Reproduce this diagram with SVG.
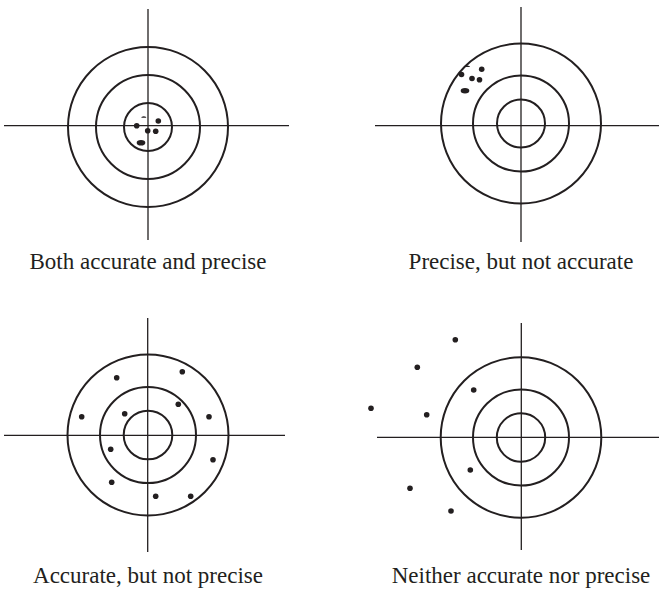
<svg xmlns="http://www.w3.org/2000/svg" width="659" height="590" viewBox="0 0 659 590">
<style>
.ring{fill:none;stroke:#231f20;stroke-width:2}
.axis{stroke:#231f20;stroke-width:1.3;fill:none}
.dot{fill:#231f20}
.label{font-family:"Liberation Serif","Times New Roman",serif;font-size:23px;fill:#231f20;text-anchor:middle}
</style>
<rect width="659" height="590" fill="#ffffff"/>
<g id="target-accurate-precise">
<line class="axis" x1="148" y1="9" x2="148" y2="240"/>
<line class="axis" x1="4" y1="125.7" x2="289" y2="125.7"/>
<circle class="ring" cx="148" cy="127" r="80"/>
<circle class="ring" cx="148" cy="127" r="52"/>
<circle class="ring" cx="148" cy="127" r="24"/>
<circle class="dot" cx="158.3" cy="121" r="2.8"/>
<circle class="dot" cx="136.7" cy="125.7" r="2.8"/>
<circle class="dot" cx="147.7" cy="130.7" r="2.8"/>
<circle class="dot" cx="155.7" cy="131.3" r="2.8"/>
<ellipse class="dot" cx="141" cy="142.7" rx="4.3" ry="2.8"/>
<path class="dot" d="M141.2,117.8 A2.6,1.6 0 0 1 146.4,117.8 Z"/>
<text class="label" x="148" y="269">Both accurate and precise</text>
</g>
<g id="target-precise-not-accurate">
<line class="axis" x1="521" y1="7" x2="521" y2="242"/>
<line class="axis" x1="375" y1="125.7" x2="659" y2="125.7"/>
<circle class="ring" cx="521" cy="123.5" r="80"/>
<circle class="ring" cx="521" cy="123.5" r="48"/>
<circle class="ring" cx="521" cy="123.5" r="24"/>
<circle class="dot" cx="481.7" cy="69.2" r="2.8"/>
<circle class="dot" cx="461.5" cy="74.5" r="2.8"/>
<circle class="dot" cx="472" cy="78.5" r="2.8"/>
<circle class="dot" cx="479.5" cy="79.8" r="2.8"/>
<ellipse class="dot" cx="465" cy="90.7" rx="4.3" ry="2.8"/>
<path class="dot" d="M464.8,67 A2.6,1.6 0 0 1 470,67 Z"/>
<text class="label" x="521" y="269">Precise, but not accurate</text>
</g>
<g id="target-accurate-not-precise">
<line class="axis" x1="147.7" y1="318" x2="147.7" y2="552"/>
<line class="axis" x1="4" y1="435.3" x2="285" y2="435.3"/>
<circle class="ring" cx="148" cy="435" r="80.5"/>
<circle class="ring" cx="148" cy="435" r="48"/>
<circle class="ring" cx="148" cy="435" r="24.3"/>
<circle class="dot" cx="182.3" cy="371.7" r="2.8"/>
<circle class="dot" cx="116.7" cy="377.7" r="2.8"/>
<circle class="dot" cx="178.3" cy="404.3" r="2.8"/>
<circle class="dot" cx="124.7" cy="413.7" r="2.8"/>
<circle class="dot" cx="81.7" cy="416.7" r="2.8"/>
<circle class="dot" cx="209" cy="416.7" r="2.8"/>
<circle class="dot" cx="110.7" cy="449.3" r="2.8"/>
<circle class="dot" cx="213" cy="459.7" r="2.8"/>
<circle class="dot" cx="111.7" cy="482.3" r="2.8"/>
<circle class="dot" cx="155.7" cy="496.3" r="2.8"/>
<circle class="dot" cx="190.7" cy="496.3" r="2.8"/>
<text class="label" x="148" y="583">Accurate, but not precise</text>
</g>
<g id="target-neither">
<line class="axis" x1="521.3" y1="323" x2="521.3" y2="550"/>
<line class="axis" x1="377" y1="437.3" x2="659" y2="437.3"/>
<circle class="ring" cx="521" cy="437.5" r="80.3"/>
<circle class="ring" cx="521" cy="437.5" r="48"/>
<circle class="ring" cx="521" cy="437.5" r="24.2"/>
<circle class="dot" cx="455.3" cy="339.7" r="2.8"/>
<circle class="dot" cx="417.3" cy="367.3" r="2.8"/>
<circle class="dot" cx="473.7" cy="390" r="2.8"/>
<circle class="dot" cx="371" cy="408.3" r="2.8"/>
<circle class="dot" cx="426.7" cy="414.7" r="2.8"/>
<circle class="dot" cx="470.3" cy="470" r="2.8"/>
<circle class="dot" cx="410" cy="488.3" r="2.8"/>
<circle class="dot" cx="451" cy="511" r="2.8"/>
<text class="label" x="521" y="583">Neither accurate nor precise</text>
</g>
</svg>
